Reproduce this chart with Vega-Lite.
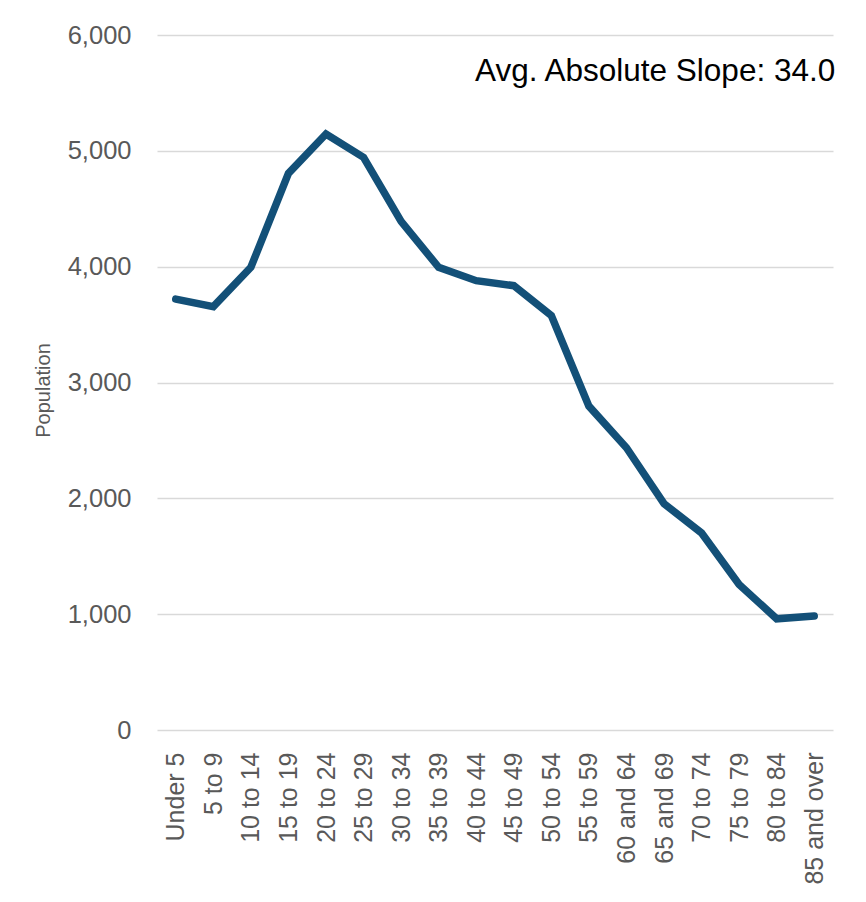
{
  "$schema": "https://vega.github.io/schema/vega-lite/v6.json",
  "autosize": "none",
  "width": 676,
  "height": 695,
  "padding": {"left": 157, "top": 35, "right": 33, "bottom": 172},
  "background": "white",
  "config": {
    "view": {"stroke": null},
    "font": "Liberation Sans"
  },
  "datasets": {
    "pop": [
      {"age": "Under 5", "population": 3720},
      {"age": "5 to 9", "population": 3655},
      {"age": "10 to 14", "population": 3995},
      {"age": "15 to 19", "population": 4805},
      {"age": "20 to 24", "population": 5145},
      {"age": "25 to 29", "population": 4943},
      {"age": "30 to 34", "population": 4391},
      {"age": "35 to 39", "population": 3994},
      {"age": "40 to 44", "population": 3879},
      {"age": "45 to 49", "population": 3836},
      {"age": "50 to 54", "population": 3578},
      {"age": "55 to 59", "population": 2796},
      {"age": "60 and 64", "population": 2437},
      {"age": "65 and 69", "population": 1954},
      {"age": "70 to 74", "population": 1701},
      {"age": "75 to 79", "population": 1256},
      {"age": "80 to 84", "population": 960},
      {"age": "85 and over", "population": 985}
    ],
    "note": [
      {"age": "85 and over", "population": 5603, "label": "Avg. Absolute Slope: 34.0"}
    ]
  },
  "layer": [
    {
      "data": {"name": "pop"},
      "mark": {"type": "line", "color": "#135078", "strokeWidth": 7.5, "strokeCap": "round", "strokeJoin": "miter"},
      "encoding": {
        "x": {
          "field": "age",
          "type": "ordinal",
          "sort": null,
          "scale": {"type": "point", "padding": 0.5},
          "axis": {
            "title": null,
            "labelAngle": -90,
            "labelAlign": "right",
            "labelBaseline": "middle",
            "labelFontSize": 25,
            "labelColor": "#595959",
            "labelPadding": 22,
            "ticks": false,
            "domain": false,
            "grid": false,
            "labelOverlap": false
          }
        },
        "y": {
          "field": "population",
          "type": "quantitative",
          "scale": {"domain": [0, 6000], "nice": false},
          "axis": {
            "title": "Population",
            "titleFontSize": 20,
            "titleFontWeight": "normal",
            "titleColor": "#595959",
            "titleAngle": -90,
            "titleAlign": "center",
            "titleBaseline": "middle",
            "titleX": -114,
            "titleY": 355,
            "values": [0, 1000, 2000, 3000, 4000, 5000, 6000],
            "format": ",.0f",
            "labelFontSize": 25.5,
            "labelColor": "#595959",
            "labelPadding": 26,
            "ticks": false,
            "domain": false,
            "grid": true,
            "gridColor": "#d9d9d9",
            "gridWidth": 1.5
          }
        }
      }
    },
    {
      "data": {"name": "note"},
      "mark": {"type": "text", "align": "right", "baseline": "alphabetic", "fontSize": 31.5, "color": "#000000", "dx": 21},
      "encoding": {
        "x": {"field": "age", "type": "ordinal", "sort": null},
        "y": {"field": "population", "type": "quantitative"},
        "text": {"field": "label"}
      }
    }
  ]
}
